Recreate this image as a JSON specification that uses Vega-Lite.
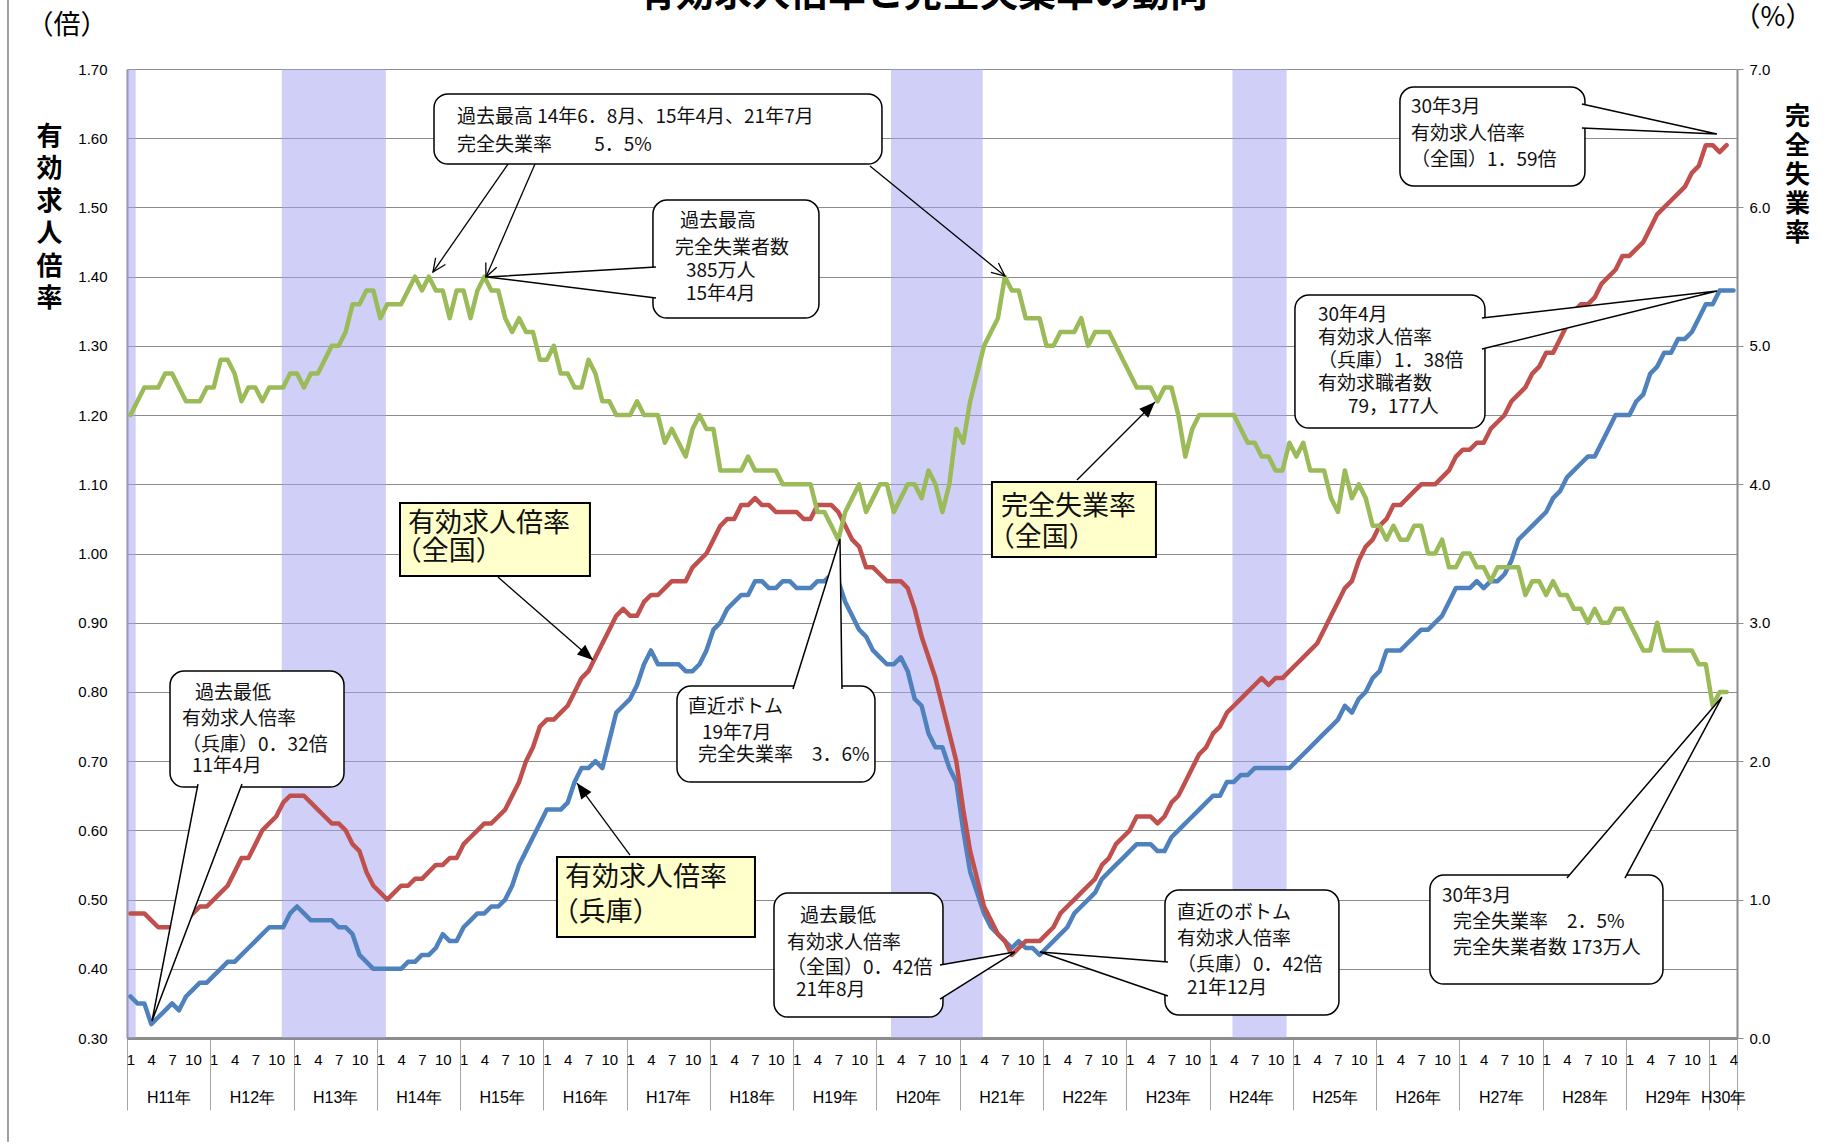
{
"$schema": "https://vega.github.io/schema/vega-lite/v6.json",
"width": 1610, "height": 969,
"autosize": {"type": "none"},
"padding": {"left": 127, "top": 69, "right": 95, "bottom": 110},
"background": "white",
"config": {"view": {"stroke": null}, "font": "Noto Sans CJK JP"},
"datasets": {
"recess": [{"s":-0.5,"e":0.75},{"s":21.8,"e":36.8},{"s":109.6,"e":122.8},{"s":158.8,"e":166.6}],
"series": [
{"i":0,"n":0.48,"h":0.36,"u":4.5},{"i":1,"n":0.48,"h":0.35,"u":4.6},{"i":2,"n":0.48,"h":0.35,"u":4.7},{"i":3,"n":0.47,"h":0.32,"u":4.7},
{"i":4,"n":0.46,"h":0.33,"u":4.7},{"i":5,"n":0.46,"h":0.34,"u":4.8},{"i":6,"n":0.46,"h":0.35,"u":4.8},{"i":7,"n":0.47,"h":0.34,"u":4.7},
{"i":8,"n":0.47,"h":0.36,"u":4.6},{"i":9,"n":0.48,"h":0.37,"u":4.6},{"i":10,"n":0.49,"h":0.38,"u":4.6},{"i":11,"n":0.49,"h":0.38,"u":4.7},
{"i":12,"n":0.50,"h":0.39,"u":4.7},{"i":13,"n":0.51,"h":0.40,"u":4.9},{"i":14,"n":0.52,"h":0.41,"u":4.9},{"i":15,"n":0.54,"h":0.41,"u":4.8},
{"i":16,"n":0.56,"h":0.42,"u":4.6},{"i":17,"n":0.56,"h":0.43,"u":4.7},{"i":18,"n":0.58,"h":0.44,"u":4.7},{"i":19,"n":0.60,"h":0.45,"u":4.6},
{"i":20,"n":0.61,"h":0.46,"u":4.7},{"i":21,"n":0.62,"h":0.46,"u":4.7},{"i":22,"n":0.64,"h":0.46,"u":4.7},{"i":23,"n":0.65,"h":0.48,"u":4.8},
{"i":24,"n":0.65,"h":0.49,"u":4.8},{"i":25,"n":0.65,"h":0.48,"u":4.7},{"i":26,"n":0.64,"h":0.47,"u":4.8},{"i":27,"n":0.63,"h":0.47,"u":4.8},
{"i":28,"n":0.62,"h":0.47,"u":4.9},{"i":29,"n":0.61,"h":0.47,"u":5.0},{"i":30,"n":0.61,"h":0.46,"u":5.0},{"i":31,"n":0.60,"h":0.46,"u":5.1},
{"i":32,"n":0.58,"h":0.45,"u":5.3},{"i":33,"n":0.57,"h":0.42,"u":5.3},{"i":34,"n":0.54,"h":0.41,"u":5.4},{"i":35,"n":0.52,"h":0.40,"u":5.4},
{"i":36,"n":0.51,"h":0.40,"u":5.2},{"i":37,"n":0.50,"h":0.40,"u":5.3},{"i":38,"n":0.51,"h":0.40,"u":5.3},{"i":39,"n":0.52,"h":0.40,"u":5.3},
{"i":40,"n":0.52,"h":0.41,"u":5.4},{"i":41,"n":0.53,"h":0.41,"u":5.5},{"i":42,"n":0.53,"h":0.42,"u":5.4},{"i":43,"n":0.54,"h":0.42,"u":5.5},
{"i":44,"n":0.55,"h":0.43,"u":5.4},{"i":45,"n":0.55,"h":0.45,"u":5.4},{"i":46,"n":0.56,"h":0.44,"u":5.2},{"i":47,"n":0.56,"h":0.44,"u":5.4},
{"i":48,"n":0.58,"h":0.46,"u":5.4},{"i":49,"n":0.59,"h":0.47,"u":5.2},{"i":50,"n":0.60,"h":0.48,"u":5.4},{"i":51,"n":0.61,"h":0.48,"u":5.5},
{"i":52,"n":0.61,"h":0.49,"u":5.4},{"i":53,"n":0.62,"h":0.49,"u":5.4},{"i":54,"n":0.63,"h":0.50,"u":5.2},{"i":55,"n":0.65,"h":0.52,"u":5.1},
{"i":56,"n":0.67,"h":0.55,"u":5.2},{"i":57,"n":0.70,"h":0.57,"u":5.1},{"i":58,"n":0.72,"h":0.59,"u":5.1},{"i":59,"n":0.75,"h":0.61,"u":4.9},
{"i":60,"n":0.76,"h":0.63,"u":4.9},{"i":61,"n":0.76,"h":0.63,"u":5.0},{"i":62,"n":0.77,"h":0.63,"u":4.8},{"i":63,"n":0.78,"h":0.64,"u":4.8},
{"i":64,"n":0.80,"h":0.67,"u":4.7},{"i":65,"n":0.82,"h":0.69,"u":4.7},{"i":66,"n":0.83,"h":0.69,"u":4.9},{"i":67,"n":0.85,"h":0.70,"u":4.8},
{"i":68,"n":0.87,"h":0.69,"u":4.6},{"i":69,"n":0.89,"h":0.73,"u":4.6},{"i":70,"n":0.91,"h":0.77,"u":4.5},{"i":71,"n":0.92,"h":0.78,"u":4.5},
{"i":72,"n":0.91,"h":0.79,"u":4.5},{"i":73,"n":0.91,"h":0.81,"u":4.6},{"i":74,"n":0.93,"h":0.84,"u":4.5},{"i":75,"n":0.94,"h":0.86,"u":4.5},
{"i":76,"n":0.94,"h":0.84,"u":4.5},{"i":77,"n":0.95,"h":0.84,"u":4.3},{"i":78,"n":0.96,"h":0.84,"u":4.4},{"i":79,"n":0.96,"h":0.84,"u":4.3},
{"i":80,"n":0.96,"h":0.83,"u":4.2},{"i":81,"n":0.98,"h":0.83,"u":4.4},{"i":82,"n":0.99,"h":0.84,"u":4.5},{"i":83,"n":1.00,"h":0.86,"u":4.4},
{"i":84,"n":1.02,"h":0.89,"u":4.4},{"i":85,"n":1.04,"h":0.90,"u":4.1},{"i":86,"n":1.05,"h":0.92,"u":4.1},{"i":87,"n":1.05,"h":0.93,"u":4.1},
{"i":88,"n":1.07,"h":0.94,"u":4.1},{"i":89,"n":1.07,"h":0.94,"u":4.2},{"i":90,"n":1.08,"h":0.96,"u":4.1},{"i":91,"n":1.07,"h":0.96,"u":4.1},
{"i":92,"n":1.07,"h":0.95,"u":4.1},{"i":93,"n":1.06,"h":0.95,"u":4.1},{"i":94,"n":1.06,"h":0.96,"u":4.0},{"i":95,"n":1.06,"h":0.96,"u":4.0},
{"i":96,"n":1.06,"h":0.95,"u":4.0},{"i":97,"n":1.05,"h":0.95,"u":4.0},{"i":98,"n":1.05,"h":0.95,"u":4.0},{"i":99,"n":1.07,"h":0.96,"u":3.8},
{"i":100,"n":1.07,"h":0.96,"u":3.8},{"i":101,"n":1.07,"h":0.97,"u":3.7},{"i":102,"n":1.06,"h":0.96,"u":3.6},{"i":103,"n":1.04,"h":0.93,"u":3.8},
{"i":104,"n":1.02,"h":0.91,"u":3.9},{"i":105,"n":1.01,"h":0.89,"u":4.0},{"i":106,"n":0.98,"h":0.88,"u":3.8},{"i":107,"n":0.98,"h":0.86,"u":3.9},
{"i":108,"n":0.97,"h":0.85,"u":4.0},{"i":109,"n":0.96,"h":0.84,"u":4.0},{"i":110,"n":0.96,"h":0.84,"u":3.8},{"i":111,"n":0.96,"h":0.85,"u":3.9},
{"i":112,"n":0.95,"h":0.83,"u":4.0},{"i":113,"n":0.92,"h":0.79,"u":4.0},{"i":114,"n":0.88,"h":0.78,"u":3.9},{"i":115,"n":0.85,"h":0.74,"u":4.1},
{"i":116,"n":0.82,"h":0.72,"u":4.0},{"i":117,"n":0.78,"h":0.72,"u":3.8},{"i":118,"n":0.74,"h":0.69,"u":4.0},{"i":119,"n":0.70,"h":0.67,"u":4.4},
{"i":120,"n":0.63,"h":0.60,"u":4.3},{"i":121,"n":0.57,"h":0.54,"u":4.6},{"i":122,"n":0.53,"h":0.51,"u":4.8},{"i":123,"n":0.49,"h":0.48,"u":5.0},
{"i":124,"n":0.47,"h":0.46,"u":5.1},{"i":125,"n":0.45,"h":0.45,"u":5.2},{"i":126,"n":0.44,"h":0.44,"u":5.5},{"i":127,"n":0.42,"h":0.43,"u":5.4},
{"i":128,"n":0.43,"h":0.44,"u":5.4},{"i":129,"n":0.44,"h":0.43,"u":5.2},{"i":130,"n":0.44,"h":0.43,"u":5.2},{"i":131,"n":0.44,"h":0.42,"u":5.2},
{"i":132,"n":0.45,"h":0.43,"u":5.0},{"i":133,"n":0.46,"h":0.44,"u":5.0},{"i":134,"n":0.48,"h":0.45,"u":5.1},{"i":135,"n":0.49,"h":0.46,"u":5.1},
{"i":136,"n":0.50,"h":0.48,"u":5.1},{"i":137,"n":0.51,"h":0.49,"u":5.2},{"i":138,"n":0.52,"h":0.50,"u":5.0},{"i":139,"n":0.53,"h":0.51,"u":5.1},
{"i":140,"n":0.55,"h":0.53,"u":5.1},{"i":141,"n":0.56,"h":0.54,"u":5.1},{"i":142,"n":0.58,"h":0.55,"u":5.0},{"i":143,"n":0.59,"h":0.56,"u":4.9},
{"i":144,"n":0.60,"h":0.57,"u":4.8},{"i":145,"n":0.62,"h":0.58,"u":4.7},{"i":146,"n":0.62,"h":0.58,"u":4.7},{"i":147,"n":0.62,"h":0.58,"u":4.7},
{"i":148,"n":0.61,"h":0.57,"u":4.6},{"i":149,"n":0.62,"h":0.57,"u":4.7},{"i":150,"n":0.64,"h":0.59,"u":4.7},{"i":151,"n":0.65,"h":0.60,"u":4.5},
{"i":152,"n":0.67,"h":0.61,"u":4.2},{"i":153,"n":0.69,"h":0.62,"u":4.4},{"i":154,"n":0.71,"h":0.63,"u":4.5},{"i":155,"n":0.72,"h":0.64,"u":4.5},
{"i":156,"n":0.74,"h":0.65,"u":4.5},{"i":157,"n":0.75,"h":0.65,"u":4.5},{"i":158,"n":0.77,"h":0.67,"u":4.5},{"i":159,"n":0.78,"h":0.67,"u":4.5},
{"i":160,"n":0.79,"h":0.68,"u":4.4},{"i":161,"n":0.80,"h":0.68,"u":4.3},{"i":162,"n":0.81,"h":0.69,"u":4.3},{"i":163,"n":0.82,"h":0.69,"u":4.2},
{"i":164,"n":0.81,"h":0.69,"u":4.2},{"i":165,"n":0.82,"h":0.69,"u":4.1},{"i":166,"n":0.82,"h":0.69,"u":4.1},{"i":167,"n":0.83,"h":0.69,"u":4.3},
{"i":168,"n":0.84,"h":0.70,"u":4.2},{"i":169,"n":0.85,"h":0.71,"u":4.3},{"i":170,"n":0.86,"h":0.72,"u":4.1},{"i":171,"n":0.87,"h":0.73,"u":4.1},
{"i":172,"n":0.89,"h":0.74,"u":4.1},{"i":173,"n":0.91,"h":0.75,"u":3.9},{"i":174,"n":0.93,"h":0.76,"u":3.8},{"i":175,"n":0.95,"h":0.78,"u":4.1},
{"i":176,"n":0.96,"h":0.77,"u":3.9},{"i":177,"n":0.99,"h":0.79,"u":4.0},{"i":178,"n":1.01,"h":0.80,"u":3.9},{"i":179,"n":1.02,"h":0.82,"u":3.7},
{"i":180,"n":1.04,"h":0.83,"u":3.7},{"i":181,"n":1.05,"h":0.86,"u":3.6},{"i":182,"n":1.07,"h":0.86,"u":3.7},{"i":183,"n":1.07,"h":0.86,"u":3.6},
{"i":184,"n":1.08,"h":0.87,"u":3.6},{"i":185,"n":1.09,"h":0.88,"u":3.7},{"i":186,"n":1.10,"h":0.89,"u":3.7},{"i":187,"n":1.10,"h":0.89,"u":3.5},
{"i":188,"n":1.10,"h":0.90,"u":3.5},{"i":189,"n":1.11,"h":0.91,"u":3.6},{"i":190,"n":1.12,"h":0.93,"u":3.4},{"i":191,"n":1.14,"h":0.95,"u":3.4},
{"i":192,"n":1.15,"h":0.95,"u":3.5},{"i":193,"n":1.15,"h":0.95,"u":3.5},{"i":194,"n":1.16,"h":0.96,"u":3.4},{"i":195,"n":1.16,"h":0.95,"u":3.4},
{"i":196,"n":1.18,"h":0.96,"u":3.3},{"i":197,"n":1.19,"h":0.96,"u":3.4},{"i":198,"n":1.20,"h":0.97,"u":3.4},{"i":199,"n":1.22,"h":0.99,"u":3.4},
{"i":200,"n":1.23,"h":1.02,"u":3.4},{"i":201,"n":1.24,"h":1.03,"u":3.2},{"i":202,"n":1.26,"h":1.04,"u":3.3},{"i":203,"n":1.27,"h":1.05,"u":3.3},
{"i":204,"n":1.29,"h":1.06,"u":3.2},{"i":205,"n":1.29,"h":1.08,"u":3.3},{"i":206,"n":1.31,"h":1.09,"u":3.2},{"i":207,"n":1.33,"h":1.11,"u":3.2},
{"i":208,"n":1.35,"h":1.12,"u":3.1},{"i":209,"n":1.36,"h":1.13,"u":3.1},{"i":210,"n":1.36,"h":1.14,"u":3.0},{"i":211,"n":1.37,"h":1.14,"u":3.1},
{"i":212,"n":1.39,"h":1.16,"u":3.0},{"i":213,"n":1.40,"h":1.18,"u":3.0},{"i":214,"n":1.41,"h":1.20,"u":3.1},{"i":215,"n":1.43,"h":1.20,"u":3.1},
{"i":216,"n":1.43,"h":1.20,"u":3.0},{"i":217,"n":1.44,"h":1.22,"u":2.9},{"i":218,"n":1.45,"h":1.23,"u":2.8},{"i":219,"n":1.47,"h":1.26,"u":2.8},
{"i":220,"n":1.49,"h":1.27,"u":3.0},{"i":221,"n":1.50,"h":1.29,"u":2.8},{"i":222,"n":1.51,"h":1.29,"u":2.8},{"i":223,"n":1.52,"h":1.31,"u":2.8},
{"i":224,"n":1.53,"h":1.31,"u":2.8},{"i":225,"n":1.55,"h":1.32,"u":2.8},{"i":226,"n":1.56,"h":1.34,"u":2.7},{"i":227,"n":1.59,"h":1.36,"u":2.7},
{"i":228,"n":1.59,"h":1.36,"u":2.4},{"i":229,"n":1.58,"h":1.38,"u":2.5},{"i":230,"n":1.59,"h":1.38,"u":2.5},{"i":231,"n":null,"h":1.38,"u":null}
],
"boxes": [
{"id":"C1","k":"call","x0":43.74,"x1":108.29,"y0":1.6639,"y1":1.5627},
{"id":"C2","k":"call","x0":75.29,"x1":99.21,"y0":1.5107,"y1":1.3402},
{"id":"C3","k":"call","x0":182.93,"x1":209.59,"y0":1.6740,"y1":1.5310},
{"id":"C4","k":"call","x0":167.80,"x1":195.18,"y0":1.3735,"y1":1.1813},
{"id":"C5","k":"call","x0":187.25,"x1":220.83,"y0":0.5354,"y1":0.3779},
{"id":"C6","k":"call","x0":5.70,"x1":30.77,"y0":0.8302,"y1":0.6626},
{"id":"C7","k":"call","x0":78.75,"x1":107.28,"y0":0.8085,"y1":0.6698},
{"id":"C8","k":"call","x0":92.73,"x1":117.08,"y0":0.5094,"y1":0.3302},
{"id":"C9","k":"call","x0":149.07,"x1":174.14,"y0":0.5138,"y1":0.3333},
{"id":"Y1","k":"label","x0":38.84,"x1":66.21,"y0":1.0729,"y1":0.9675},
{"id":"Y2","k":"label","x0":61.46,"x1":89.99,"y0":0.5615,"y1":0.4459},
{"id":"Y3","k":"label","x0":124.14,"x1":147.77,"y0":1.1033,"y1":0.9949}
],
"tails": [
{"id":"C2","o":1,"x":75.72,"y":1.4139},{"id":"C2","o":2,"x":51.37,"y":1.3995},{"id":"C2","o":3,"x":75.72,"y":1.3691},
{"id":"C3","o":1,"x":209.15,"y":1.6494},{"id":"C3","o":2,"x":228.61,"y":1.6061},{"id":"C3","o":3,"x":209.15,"y":1.6148},
{"id":"C4","o":1,"x":194.74,"y":1.3402},{"id":"C4","o":2,"x":228.61,"y":1.3792},{"id":"C4","o":3,"x":194.74,"y":1.2954},
{"id":"C5","o":1,"x":206.99,"y":0.5311},{"id":"C5","o":2,"x":229.33,"y":0.7926},{"id":"C5","o":3,"x":215.35,"y":0.5311},
{"id":"C6","o":1,"x":9.73,"y":0.6669},{"id":"C6","o":2,"x":3.10,"y":0.3245},{"id":"C6","o":3,"x":16.07,"y":0.6669},
{"id":"C7","o":1,"x":95.47,"y":0.8042},{"id":"C7","o":2,"x":102.24,"y":1.0209},{"id":"C7","o":3,"x":102.53,"y":0.8042},
{"id":"C8","o":1,"x":116.65,"y":0.4054},{"id":"C8","o":2,"x":127.45,"y":0.4242},{"id":"C8","o":3,"x":116.65,"y":0.3563},
{"id":"C9","o":1,"x":149.5,"y":0.4097},{"id":"C9","o":2,"x":131.06,"y":0.4242},{"id":"C9","o":3,"x":149.5,"y":0.3606}
],
"arrows": [
{"id":"a1","x0":54.40,"y0":1.5627,"x1":43.59,"y1":1.4067},
{"id":"a2","x0":58.29,"y0":1.5627,"x1":51.23,"y1":1.3995},
{"id":"a3","x0":106.56,"y0":1.5598,"x1":126.01,"y1":1.4009},
{"id":"b1","x0":52.96,"y0":0.9660,"x1":66.65,"y1":0.8461},
{"id":"b2","x0":71.98,"y0":0.5643,"x1":64.34,"y1":0.6684},
{"id":"b3","x0":136.39,"y0":1.1062,"x1":147.63,"y1":1.2189}
],
"texts": [
{"k":"s","x":47.05,"y":1.6306,"t":"過去最高 14年6．8月、15年4月、21年7月"},
{"k":"s","x":47.05,"y":1.5902,"t":"完全失業率　　 5．5%"},
{"k":"s","x":79.18,"y":1.4804,"t":"過去最高"},
{"k":"s","x":78.46,"y":1.4414,"t":"完全失業者数"},
{"k":"s","x":80.05,"y":1.4081,"t":"385万人"},
{"k":"s","x":80.05,"y":1.3749,"t":"15年4月"},
{"k":"s","x":184.51,"y":1.6451,"t":"30年3月"},
{"k":"s","x":184.51,"y":1.6061,"t":"有効求人倍率"},
{"k":"s","x":184.51,"y":1.5685,"t":"（全国）1．59倍"},
{"k":"s","x":171.11,"y":1.3446,"t":"30年4月"},
{"k":"s","x":171.11,"y":1.3113,"t":"有効求人倍率"},
{"k":"s","x":171.11,"y":1.2781,"t":"（兵庫）1．38倍"},
{"k":"s","x":171.11,"y":1.2449,"t":"有効求職者数"},
{"k":"s","x":175.44,"y":1.2116,"t":"79，177人"},
{"k":"s","x":188.98,"y":0.5051,"t":"30年3月"},
{"k":"s","x":190.57,"y":0.4675,"t":"完全失業率　2．5%"},
{"k":"s","x":190.57,"y":0.4300,"t":"完全失業者数 173万人"},
{"k":"s","x":9.30,"y":0.7984,"t":"過去最低"},
{"k":"s","x":7.43,"y":0.7609,"t":"有効求人倍率"},
{"k":"s","x":7.43,"y":0.7233,"t":"（兵庫）0．32倍"},
{"k":"s","x":8.87,"y":0.6929,"t":"11年4月"},
{"k":"s","x":80.34,"y":0.7782,"t":"直近ボトム"},
{"k":"s","x":82.35,"y":0.7406,"t":"19年7月"},
{"k":"s","x":81.78,"y":0.7088,"t":"完全失業率　3．6%"},
{"k":"s","x":96.47,"y":0.4762,"t":"過去最低"},
{"k":"s","x":94.60,"y":0.4372,"t":"有効求人倍率"},
{"k":"s","x":94.60,"y":0.4011,"t":"（全国）0．42倍"},
{"k":"s","x":95.90,"y":0.3693,"t":"21年8月"},
{"k":"s","x":150.80,"y":0.4806,"t":"直近のボトム"},
{"k":"s","x":150.80,"y":0.4430,"t":"有効求人倍率"},
{"k":"s","x":150.80,"y":0.4054,"t":"（兵庫）0．42倍"},
{"k":"s","x":152.24,"y":0.3722,"t":"21年12月"},
{"k":"L","x":39.99,"y":1.0426,"t":"有効求人倍率"},
{"k":"L","x":38.10,"y":1.0021,"t":"（全国）"},
{"k":"L","x":62.61,"y":0.5311,"t":"有効求人倍率"},
{"k":"L","x":60.70,"y":0.4805,"t":"（兵庫）"},
{"k":"L","x":125.44,"y":1.0672,"t":"完全失業率"},
{"k":"L","x":123.55,"y":1.0224,"t":"（全国）"},
{"k":"u","x":-9.15,"y":1.7621,"t":"（倍）"},
{"k":"u","x":236.68,"y":1.7737,"t":"（%）"},
{"k":"T","x":114.2,"y":1.791,"t":"有効求人倍率と完全失業率の動向"}
],
"frame": [{"x":-17.65,"y0":1.80,"y1":0.15}]
},
"layer": [
{
"data": {"name": "recess"},
"mark": {"type": "rect", "fill": "#a0a0f0", "opacity": 0.5},
"encoding": {
"x": {"field": "s", "type": "quantitative", "scale": {"domain": [-0.5, 231.5], "nice": false, "zero": false},
"axis": {"orient": "bottom", "values": [-0.5,11.5,23.5,35.5,47.5,59.5,71.5,83.5,95.5,107.5,119.5,131.5,143.5,155.5,167.5,179.5,191.5,203.5,215.5,227.5,231.5],
"labels": false, "ticks": true, "tickSize": 72, "tickColor": "#a6a6a6", "tickWidth": 1, "domain": false, "grid": false, "title": null}},
"x2": {"field": "e"}
}
},
{
"data": {"name": "series"},
"encoding": {
"x": {"field": "i", "type": "quantitative", "scale": {"domain": [-0.5, 231.5], "nice": false, "zero": false},
"axis": {"orient": "bottom", "values": [0,3,6,9,12,15,18,21,24,27,30,33,36,39,42,45,48,51,54,57,60,63,66,69,72,75,78,81,84,87,90,93,96,99,102,105,108,111,114,117,120,123,126,129,132,135,138,141,144,147,150,153,156,159,162,165,168,171,174,177,180,183,186,189,192,195,198,201,204,207,210,213,216,219,222,225,228,231],
"labelExpr": "'' + (datum.value % 12 + 1)", "ticks": false, "tickSize": 0, "labelPadding": 14,
"labelFont": "Liberation Sans", "labelFontSize": 15, "labelColor": "#000", "labelOverlap": false, "labelFlush": false,
"domain": true, "domainColor": "#8c8c8c", "domainWidth": 3, "grid": false, "title": null}},
"y": {"field": "h", "type": "quantitative", "scale": {"domain": [0.3, 1.7], "nice": false, "zero": false},
"axis": {"orient": "left", "values": [0.3,0.4,0.5,0.6,0.7,0.8,0.9,1.0,1.1,1.2,1.3,1.4,1.5,1.6,1.7], "format": ".2f",
"grid": true, "gridColor": "#8c8c8c", "gridWidth": 1, "ticks": false, "tickSize": 0,
"domain": true, "domainColor": "#8c8c8c", "domainWidth": 2, "labelPadding": 20,
"labelFont": "Liberation Sans", "labelFontSize": 15, "labelColor": "#000",
"title": ["有","効","求","人","倍","率"], "titleAngle": 0, "titleAlign": "center", "titleBaseline": "top",
"titleX": -78, "titleY": 54, "titleFont": "Noto Sans CJK JP", "titleFontSize": 26, "titleFontWeight": "bold",
"titleLineHeight": 32.5, "titleColor": "#000"}}
},
"layer": [
{
"mark": {"type": "line", "stroke": "#4F81BD", "strokeWidth": 4.5, "strokeJoin": "round", "strokeCap": "round"}
},
{
"mark": {"type": "line", "stroke": "#C0504D", "strokeWidth": 4.5, "strokeJoin": "round", "strokeCap": "round"},
"encoding": {"y": {"field": "n", "type": "quantitative", "scale": {"domain": [0.3, 1.7], "nice": false, "zero": false},
"axis": {"orient": "left", "values": [0.3,0.4,0.5,0.6,0.7,0.8,0.9,1.0,1.1,1.2,1.3,1.4,1.5,1.6,1.7], "format": ".2f",
"grid": true, "gridColor": "#8c8c8c", "gridWidth": 1, "ticks": false, "tickSize": 0,
"domain": true, "domainColor": "#8c8c8c", "domainWidth": 2, "labelPadding": 20,
"labelFont": "Liberation Sans", "labelFontSize": 15, "labelColor": "#000",
"title": ["有","効","求","人","倍","率"], "titleAngle": 0, "titleAlign": "center", "titleBaseline": "top",
"titleX": -78, "titleY": 54, "titleFont": "Noto Sans CJK JP", "titleFontSize": 26, "titleFontWeight": "bold",
"titleLineHeight": 32.5, "titleColor": "#000"}}}
}
]
},
{
"data": {"name": "series"},
"mark": {"type": "line", "stroke": "#9BBB59", "strokeWidth": 4.5, "strokeJoin": "round", "strokeCap": "round"},
"encoding": {
"x": {"field": "i", "type": "quantitative", "scale": {"domain": [-0.5, 231.5], "nice": false, "zero": false},
"axis": {"orient": "bottom", "values": [5.5,17.5,29.5,41.5,53.5,65.5,77.5,89.5,101.5,113.5,125.5,137.5,149.5,161.5,173.5,185.5,197.5,209.5,221.5,229.5],
"labelExpr": "datum.value > 228 ? 'H30年' : 'H' + (11 + floor(datum.value / 12)) + '年'",
"ticks": false, "tickSize": 0, "labelPadding": 51, "labelFont": "Liberation Sans", "labelFontSize": 16, "labelColor": "#000",
"labelOverlap": false, "labelFlush": false, "domain": false, "grid": false, "title": null}},
"y": {"field": "u", "type": "quantitative", "scale": {"domain": [0, 7], "nice": false, "zero": false},
"axis": {"orient": "right", "values": [0,1,2,3,4,5,6,7], "format": ".1f", "grid": false, "ticks": true, "tickSize": 6,
"tickColor": "#8c8c8c", "domain": true, "domainColor": "#8c8c8c", "domainWidth": 2, "labelPadding": 6,
"labelFont": "Liberation Sans", "labelFontSize": 15, "labelColor": "#000",
"title": ["完","全","失","業","率"], "titleAngle": 0, "titleAlign": "center", "titleBaseline": "top",
"titleX": 60, "titleY": 35, "titleFont": "Noto Sans CJK JP", "titleFontSize": 25, "titleFontWeight": "bold",
"titleLineHeight": 29, "titleColor": "#000"}}
}
},
{
"layer": [
{
"data": {"name": "frame"},
"mark": {"type": "rule", "stroke": "#a0a0a0", "strokeWidth": 2},
"encoding": {
"x": {"field": "x", "type": "quantitative", "scale": {"domain": [-0.5, 231.5], "nice": false, "zero": false}, "axis": null},
"y": {"field": "y0", "type": "quantitative", "scale": {"domain": [0.3, 1.7], "nice": false, "zero": false}, "axis": null},
"y2": {"field": "y1"}
}
},
{
"data": {"name": "arrows"},
"mark": {"type": "rule", "stroke": "#000", "strokeWidth": 1.3},
"encoding": {
"x": {"field": "x0", "type": "quantitative", "axis": null}, "x2": {"field": "x1"},
"y": {"field": "y0", "type": "quantitative", "axis": null}, "y2": {"field": "y1"}
}
},
{
"data": {"name": "arrows"}, "transform": [{"filter": "datum.id == 'a1'"}],
"mark": {"type": "point", "shape": "M-0.45,1L0,0L0.45,1", "filled": false, "stroke": "#000", "strokeWidth": 1.3, "size": 700, "angle": -145.2, "opacity": 1},
"encoding": {"x": {"field": "x1", "type": "quantitative", "axis": null}, "y": {"field": "y1", "type": "quantitative", "axis": null}}
},
{
"data": {"name": "arrows"}, "transform": [{"filter": "datum.id == 'a2'"}],
"mark": {"type": "point", "shape": "M-0.45,1L0,0L0.45,1", "filled": false, "stroke": "#000", "strokeWidth": 1.3, "size": 700, "angle": -156.6, "opacity": 1},
"encoding": {"x": {"field": "x1", "type": "quantitative", "axis": null}, "y": {"field": "y1", "type": "quantitative", "axis": null}}
},
{
"data": {"name": "arrows"}, "transform": [{"filter": "datum.id == 'a3'"}],
"mark": {"type": "point", "shape": "M-0.45,1L0,0L0.45,1", "filled": false, "stroke": "#000", "strokeWidth": 1.3, "size": 700, "angle": 129.2, "opacity": 1},
"encoding": {"x": {"field": "x1", "type": "quantitative", "axis": null}, "y": {"field": "y1", "type": "quantitative", "axis": null}}
},
{
"data": {"name": "arrows"}, "transform": [{"filter": "datum.id == 'b1'"}],
"mark": {"type": "point", "shape": "M0,0L-0.4,1L0.4,1Z", "filled": true, "fill": "#000", "size": 1000, "angle": 131.1, "opacity": 1},
"encoding": {"x": {"field": "x1", "type": "quantitative", "axis": null}, "y": {"field": "y1", "type": "quantitative", "axis": null}}
},
{
"data": {"name": "arrows"}, "transform": [{"filter": "datum.id == 'b2'"}],
"mark": {"type": "point", "shape": "M0,0L-0.4,1L0.4,1Z", "filled": true, "fill": "#000", "size": 1000, "angle": -36.4, "opacity": 1},
"encoding": {"x": {"field": "x1", "type": "quantitative", "axis": null}, "y": {"field": "y1", "type": "quantitative", "axis": null}}
},
{
"data": {"name": "arrows"}, "transform": [{"filter": "datum.id == 'b3'"}],
"mark": {"type": "point", "shape": "M0,0L-0.4,1L0.4,1Z", "filled": true, "fill": "#000", "size": 1000, "angle": 45, "opacity": 1},
"encoding": {"x": {"field": "x1", "type": "quantitative", "axis": null}, "y": {"field": "y1", "type": "quantitative", "axis": null}}
},
{
"data": {"name": "boxes"}, "transform": [{"filter": "datum.k == 'call'"}],
"mark": {"type": "rect", "fill": "#ffffff", "stroke": "#000", "strokeWidth": 1.5, "cornerRadius": 14},
"encoding": {
"x": {"field": "x0", "type": "quantitative", "axis": null}, "x2": {"field": "x1"},
"y": {"field": "y0", "type": "quantitative", "axis": null}, "y2": {"field": "y1"}
}
},
{
"data": {"name": "boxes"}, "transform": [{"filter": "datum.k == 'label'"}],
"mark": {"type": "rect", "fill": "#ffffcc", "stroke": "#000", "strokeWidth": 2},
"encoding": {
"x": {"field": "x0", "type": "quantitative", "axis": null}, "x2": {"field": "x1"},
"y": {"field": "y0", "type": "quantitative", "axis": null}, "y2": {"field": "y1"}
}
},
{
"data": {"name": "tails"},
"mark": {"type": "line", "filled": true, "fill": "#ffffff", "stroke": "#000", "strokeWidth": 1.5, "strokeJoin": "miter"},
"encoding": {
"x": {"field": "x", "type": "quantitative", "axis": null},
"y": {"field": "y", "type": "quantitative", "axis": null},
"detail": {"field": "id"},
"order": {"field": "o", "type": "quantitative"}
}
},
{
"data": {"name": "texts"}, "transform": [{"filter": "datum.k == 's'"}],
"mark": {"type": "text", "align": "left", "baseline": "middle", "font": "Noto Sans CJK JP", "fontSize": 19, "color": "#111"},
"encoding": {"x": {"field": "x", "type": "quantitative", "axis": null}, "y": {"field": "y", "type": "quantitative", "axis": null}, "text": {"field": "t"}}
},
{
"data": {"name": "texts"}, "transform": [{"filter": "datum.k == 'L'"}],
"mark": {"type": "text", "align": "left", "baseline": "middle", "font": "Noto Sans CJK JP", "fontSize": 27, "color": "#111"},
"encoding": {"x": {"field": "x", "type": "quantitative", "axis": null}, "y": {"field": "y", "type": "quantitative", "axis": null}, "text": {"field": "t"}}
},
{
"data": {"name": "texts"}, "transform": [{"filter": "datum.k == 'u'"}],
"mark": {"type": "text", "align": "center", "baseline": "middle", "font": "Noto Sans CJK JP", "fontSize": 27, "color": "#000"},
"encoding": {"x": {"field": "x", "type": "quantitative", "axis": null}, "y": {"field": "y", "type": "quantitative", "axis": null}, "text": {"field": "t"}}
},
{
"data": {"name": "texts"}, "transform": [{"filter": "datum.k == 'T'"}],
"mark": {"type": "text", "align": "center", "baseline": "alphabetic", "font": "Noto Sans CJK JP", "fontSize": 38, "fontWeight": "bold", "color": "#000"},
"encoding": {"x": {"field": "x", "type": "quantitative", "axis": null}, "y": {"field": "y", "type": "quantitative", "axis": null}, "text": {"field": "t"}}
}
]
}
],
"resolve": {"scale": {"y": "independent"}, "axis": {"x": "independent", "y": "independent"}}
}
